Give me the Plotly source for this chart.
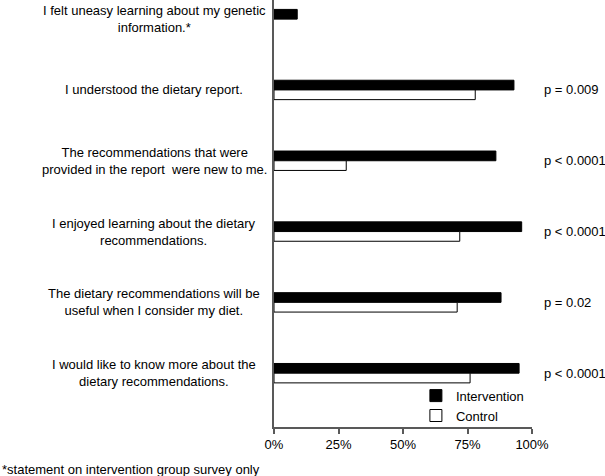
import plotly.graph_objects as go

# survey statements, top to bottom
statements = [
    "I felt uneasy learning about my genetic<br>information.*",
    "I understood the dietary report.",
    "The recommendations that were<br>provided in the report  were new to me.",
    "I enjoyed learning about the dietary<br>recommendations.",
    "The dietary recommendations will be<br>useful when I consider my diet.",
    "I would like to know more about the<br>dietary recommendations.",
]
intervention = [0.09, 0.93, 0.86, 0.96, 0.88, 0.95]
control = [None, 0.78, 0.28, 0.72, 0.71, 0.76]
p_values = ["", "p = 0.009", "p < 0.0001", "p < 0.0001", "p = 0.02", "p < 0.0001"]
x_ticks = [0, 0.25, 0.5, 0.75, 1.0]
x_tick_labels = ["0%", "25%", "50%", "75%", "100%"]
footnote = "*statement on intervention group survey only"

pos = list(range(len(statements)))
font = dict(family="Liberation Sans, Arial, sans-serif", size=13, color="black")

fig = go.Figure()

fig.add_trace(go.Bar(
    y=pos, x=intervention, orientation="h", name="Intervention",
    marker=dict(color="black", line=dict(color="black", width=1)),
))
fig.add_trace(go.Bar(
    y=pos, x=control, orientation="h", name="Control",
    marker=dict(color="white", line=dict(color="black", width=1)),
))

# statement labels, centred to the left of the axis
for i, s in enumerate(statements):
    fig.add_annotation(x=-0.465, xref="paper", y=i, yref="y", text=s,
                       showarrow=False, xanchor="center", align="center",
                       font=font)

# p-values on the right
for i, p in enumerate(p_values):
    if p:
        fig.add_annotation(x=1.037, xref="paper", y=i, yref="y", text=p,
                           showarrow=False, xanchor="left", font=font)

fig.add_annotation(x=-1.062, xref="paper", y=0, yref="paper", yshift=-42,
                   text=footnote, showarrow=False, xanchor="left",
                   yanchor="middle", font=font)

fig.update_layout(
    width=605, height=476,
    margin=dict(l=274, r=73, t=0, b=49),
    paper_bgcolor="white", plot_bgcolor="white",
    barmode="group", bargap=0.726, bargroupgap=0,
    font=font,
    showlegend=True,
    legend=dict(x=0.55, y=0.05, xanchor="left", yanchor="middle",
                bgcolor="rgba(0,0,0,0)", font=font,
                itemwidth=30, tracegroupgap=0),
    xaxis=dict(range=[0, 1.0], tickvals=x_ticks, ticktext=x_tick_labels,
               showgrid=False, zeroline=False, showline=True,
               linecolor="#595959", linewidth=1.5,
               ticks="outside", ticklen=5, tickcolor="#595959",
               tickwidth=1.5),
    yaxis=dict(range=[5.76, -0.27], showticklabels=False, showgrid=False,
               zeroline=False, showline=True, linecolor="#595959",
               linewidth=1.5, ticks=""),
)

# drop the default page margin so the chart fills the window
fig.write_html("out.html", config={"displayModeBar": False},
               post_script="document.body.style.margin='0';")
